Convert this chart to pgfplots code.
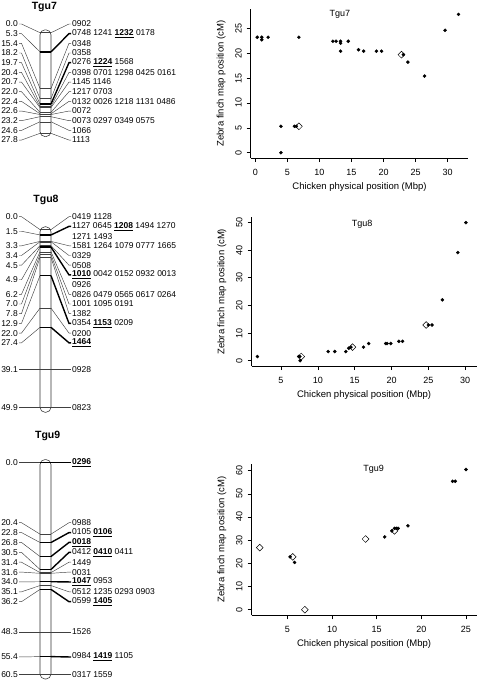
\documentclass[border=0pt]{standalone}
\usepackage{fontspec}
\setmainfont{Liberation Sans}
\usepackage{pgfplots}
\pgfplotsset{compat=1.18}

\newcommand\lfont{\fontsize{8.5}{10}\selectfont}
\newcommand\bu[1]{\underline{\textbf{#1}}}

\pgfplotsset{
 mapaxis/.style={hide axis, scale only axis, width=200pt, xmin=0, xmax=200, y dir=reverse, clip=false, anchor=north west},
 thin/.style={black!75, line width=0.45pt},
 thick/.style={black, line width=1.4pt},
 chrom/.style={black!80, line width=0.55pt, rounded corners=5pt},
 scat/.style={
  scale only axis, anchor=south west, clip=false,
  axis x line*=bottom, axis y line*=left,
  axis line style={-, line width=0.55pt},
  tick align=outside, major tick length=4pt,
  tick style={black, line width=0.55pt},
  ticklabel style={font=\fontsize{9}{10}\selectfont},
  /pgf/number format/assume math mode=true,
  yticklabel style={rotate=90, yshift=1.5pt},
  xticklabel style={yshift=-3.5pt},
  label style={font=\fontsize{9.5}{11}\selectfont},
  xlabel style={at={(axis description cs:0.5,0)}, anchor=center, yshift=-28.5pt},
  ylabel style={at={(axis description cs:0,0.5)}, anchor=center, rotate=0, yshift=29.5pt},
  xlabel={Chicken physical position (Mbp)},
  ylabel={Zebra finch map position (cM)},
 },
 dots/.style={only marks, mark=*, mark size=1.55pt, black},
 dmd/.style={only marks, mark=square, mark size=2.4pt, mark options={rotate=45, draw=black, fill=none, line width=0.5pt}},
}

% #1 cM, #2 left row, #3 right row, #4 style, #5 left label, #6 right label
\newcommand\mk[6]{%
 \addplot[thin] coordinates {(19,#2) (21.5,#2) (40,#1)};
 \addplot[#4] coordinates {(40,#1) (51,#1)};
 \addplot[#4] coordinates {(51,#1) (69,#3) (71,#3)};
 \node[anchor=east,font=\lfont,inner sep=0pt] at (axis cs:18,#2) {#5};
 \node[anchor=west,font=\lfont,inner sep=0pt] at (axis cs:72,#3) {#6};
}
\newcommand\cont[2]{\node[anchor=west,font=\lfont,inner sep=0pt] at (axis cs:72,#1) {#2};}

\begin{document}
\begin{tikzpicture}
\useasboundingbox (0,0) rectangle (478pt,-682pt);

% ---------------- Tgu7 map ----------------
\begin{axis}[mapaxis, at={(0pt,0pt)}, height=150pt, ymin=-9.033, ymax=32.403]
\addplot[chrom] coordinates {(40,14) (40,-0.8) (51,-0.8) (51,28.7) (40,28.7) (40,14)};
\mk{0.0}{-2.40}{-2.40}{thin}{0.0}{0902}
\mk{5.3}{0.27}{0.27}{thick}{5.3}{0748 1241 \bu{1232} 0178}
\mk{15.4}{2.94}{2.94}{thin}{15.4}{0348}
\mk{18.2}{5.61}{5.61}{thin}{18.2}{0358}
\mk{19.7}{8.28}{8.28}{thick}{19.7}{0276 \bu{1224} 1568}
\mk{20.4}{10.96}{10.96}{thin}{20.4}{0398 0701 1298 0425 0161}
\mk{20.7}{13.63}{13.63}{thin}{20.7}{1145 1146}
\mk{22.0}{16.30}{16.30}{thin}{22.0}{1217 0703}
\mk{22.4}{18.97}{18.97}{thin}{22.4}{0132 0026 1218 1131 0486}
\mk{22.6}{21.64}{21.64}{thin}{22.6}{0072}
\mk{23.2}{24.31}{24.31}{thin}{23.2}{0073 0297 0349 0575}
\mk{24.6}{26.98}{26.98}{thin}{24.6}{1066}
\mk{27.8}{29.65}{29.65}{thin}{27.8}{1113}
\node[font=\bfseries\fontsize{10.5}{12}\selectfont] at (axis cs:44.3,-7.18) {Tgu7};
\end{axis}

% ---------------- Tgu8 map ----------------
\begin{axis}[mapaxis, at={(0pt,-185pt)}, height=230pt, ymin=-12.500, ymax=51.962]
\addplot[chrom] coordinates {(40,25) (40,-0.8) (51,-0.8) (51,51.2) (40,51.2) (40,25)};
\mk{0.0}{-3.62}{-3.62}{thin}{0.0}{0419 1128}
\mk{1.5}{0.46}{-0.90}{thick}{1.5}{1127 0645 \bu{1208} 1494 1270}
\cont{1.82}{1271 1493}
\mk{3.3}{4.54}{4.54}{thin}{3.3}{1581 1264 1079 0777 1665}
\mk{3.4}{7.26}{7.26}{thin}{3.4}{0329}
\mk{4.5}{9.98}{9.98}{thin}{4.5}{0508}
\mk{4.9}{14.06}{12.70}{thick}{4.9}{\bu{1010} 0042 0152 0932 0013}
\cont{15.41}{0926}
\mk{6.2}{18.13}{18.13}{thin}{6.2}{0826 0479 0565 0617 0264}
\mk{7.0}{20.85}{20.85}{thin}{7.0}{1001 1095 0191}
\mk{7.8}{23.57}{23.57}{thin}{7.8}{1382}
\mk{12.9}{26.29}{26.29}{thick}{12.9}{0354 \bu{1153} 0209}
\mk{22.0}{29.01}{29.01}{thin}{22.0}{0200}
\mk{27.4}{31.73}{31.73}{thick}{27.4}{\bu{1464}}
\mk{39.1}{39.1}{39.1}{thin}{39.1}{0928}
\mk{49.9}{49.9}{49.9}{thin}{49.9}{0823}
\node[font=\bfseries\fontsize{10.5}{12}\selectfont] at (axis cs:46,-8.30) {Tgu8};
\end{axis}

% ---------------- Tgu9 map ----------------
\begin{axis}[mapaxis, at={(0pt,-425pt)}, height=257pt, ymin=-10.771, ymax=62.657]
\addplot[chrom] coordinates {(40,30) (40,-0.9) (51,-0.9) (51,61.8) (40,61.8) (40,30)};
\mk{0.0}{0}{0}{thick}{0.0}{\bu{0296}}
\mk{20.4}{17.14}{17.14}{thin}{20.4}{0988}
\mk{22.8}{19.96}{19.96}{thick}{22.8}{0105 \bu{0106}}
\mk{26.8}{22.78}{22.78}{thick}{26.8}{\bu{0018}}
\mk{30.5}{25.61}{25.61}{thick}{30.5}{0412 \bu{0410} 0411}
\mk{31.4}{28.43}{28.43}{thin}{31.4}{1449}
\mk{31.6}{31.25}{31.25}{thin}{31.6}{0031}
\mk{34.0}{34.07}{34.07}{thick}{34.0}{\bu{1047} 0953}
\mk{35.1}{36.89}{36.89}{thin}{35.1}{0512 1235 0293 0903}
\mk{36.2}{39.71}{39.71}{thick}{36.2}{0599 \bu{1405}}
\mk{48.3}{48.3}{48.3}{thin}{48.3}{1526}
\mk{55.4}{55.5}{55.5}{thick}{55.4}{0984 \bu{1419} 1105}
\mk{60.5}{60.5}{60.5}{thin}{60.5}{0317 1559}
\node[font=\bfseries\fontsize{10.5}{12}\selectfont] at (axis cs:47.7,-7.63) {Tgu9};
\end{axis}

% ---------------- Tgu7 scatter ----------------
\begin{axis}[scat, at={(250.7pt,-158.2pt)}, width=217.6pt, height=149.3pt,
  xmin=-0.72, xmax=33.23, ymin=-1.11, ymax=28.9,
  xtick={0,5,...,30}, ytick={0,5,...,25}]
\addplot[dots] coordinates {(0.3,23.2) (1.0,23.2) (1.0,22.7) (2.0,23.2) (6.8,23.2)
 (4.0,5.3) (4.0,0.0) (6.1,5.3) (6.4,5.3) (12.1,22.4) (12.6,22.4) (13.3,22.4) (13.3,22.0)
 (13.3,20.4) (14.5,22.4) (16.1,20.7) (16.9,20.4) (18.9,20.4) (19.7,20.4) (23.1,19.7)
 (23.8,18.2) (26.4,15.4) (29.6,24.6) (31.7,27.8)};
\addplot[dmd] coordinates {(6.8,5.3) (22.8,19.7)};
\node[font=\fontsize{9}{10}\selectfont] at (axis cs:13.2,27.9) {Tgu7};
\end{axis}

% ---------------- Tgu8 scatter ----------------
\begin{axis}[scat, at={(251.5pt,-366.2pt)}, width=225.2pt, height=149.1pt,
  xmin=1.0, xmax=31.56, ymin=-2.0, ymax=51.9,
  xtick={5,10,...,30}, ytick={0,10,...,50}]
\addplot[dots] coordinates {(1.8,1.5) (7.4,1.5) (7.55,1.5) (7.6,0.0) (11.4,3.3) (12.3,3.3)
 (13.8,3.3) (14.2,4.5) (14.5,4.9) (16.2,4.9) (16.9,6.2) (19.2,6.2) (19.4,6.2) (19.9,6.2)
 (21.0,7.0) (21.5,7.0) (25.0,12.9) (25.5,12.9) (26.9,22.0) (29.0,39.1) (30.1,49.9)};
\addplot[dmd] coordinates {(7.75,1.5) (14.7,4.9) (24.7,12.9)};
\node[font=\fontsize{9}{10}\selectfont] at (axis cs:16.0,49.4) {Tgu8};
\end{axis}

% ---------------- Tgu9 scatter ----------------
\begin{axis}[scat, at={(251.5pt,-615.3pt)}, width=225.2pt, height=151.4pt,
  xmin=0.98, xmax=26.2, ymin=-2.42, ymax=62.9,
  xtick={5,10,...,25}, ytick={0,10,...,60}]
\addplot[dots] coordinates {(5.3,22.8) (5.8,20.4) (15.9,31.4) (16.7,34.0) (17.0,35.1)
 (17.2,35.1) (17.4,35.1) (18.5,36.2) (23.5,55.4) (23.8,55.4) (25.0,60.5)};
\addplot[dmd] coordinates {(1.9,26.8) (5.6,22.8) (6.95,0.0) (13.75,30.5) (17.0,34.0)};
\node[font=\fontsize{9}{10}\selectfont] at (axis cs:14.65,60.4) {Tgu9};
\end{axis}
\end{tikzpicture}
\end{document}
